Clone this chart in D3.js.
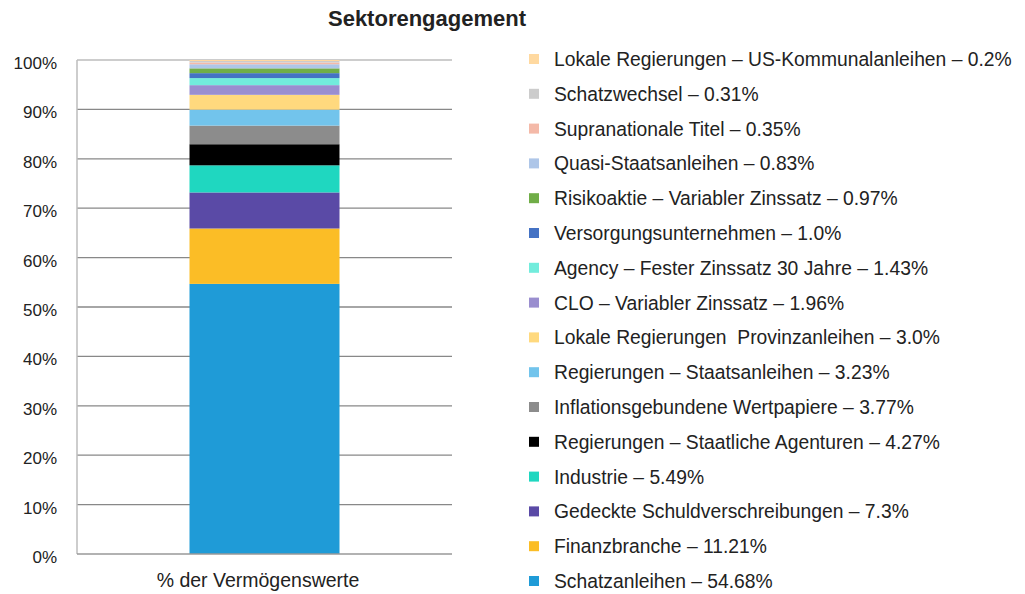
<!DOCTYPE html>
<html>
<head>
<meta charset="utf-8">
<script src="https://cdn.jsdelivr.net/npm/d3@7"></script>
<style>
  body { margin: 0; background: #fff; }
  text { font-family: "Liberation Sans", Arial, sans-serif; fill: #222; }
</style>
</head>
<body>
<div id="chart"></div>
<script>
// sectors from bottom of the stack to the top
var sectors = [
  'Schatzanleihen',
  'Finanzbranche',
  'Gedeckte Schuldverschreibungen',
  'Industrie',
  'Regierungen – Staatliche Agenturen',
  'Inflationsgebundene Wertpapiere',
  'Regierungen – Staatsanleihen',
  'Lokale Regierungen  Provinzanleihen',
  'CLO – Variabler Zinssatz',
  'Agency – Fester Zinssatz 30 Jahre',
  'Versorgungsunternehmen',
  'Risikoaktie – Variabler Zinssatz',
  'Quasi-Staatsanleihen',
  'Supranationale Titel',
  'Schatzwechsel',
  'Lokale Regierungen – US-Kommunalanleihen'
];
var shares = [54.68, 11.21, 7.3, 5.49, 4.27, 3.77, 3.23, 3.0, 1.96, 1.43, 1.0, 0.97, 0.83, 0.35, 0.31, 0.2];
var shareLabels = ['54.68', '11.21', '7.3', '5.49', '4.27', '3.77', '3.23', '3.0', '1.96', '1.43', '1.0', '0.97', '0.83', '0.35', '0.31', '0.2'];
var colors = ['#1f9bd7', '#fbbd26', '#5a4aa6', '#1fd7c0', '#000000', '#8c8c8c', '#72c4ec', '#ffd97e',
              '#9a8ecf', '#72ecdc', '#4472c4', '#70ad47', '#aec6e8', '#f4b9a8', '#cccccc', '#ffd9a0'];
var category = '% der Vermögenswerte';
var yTicks = [0, 10, 20, 30, 40, 50, 60, 70, 80, 90, 100];

var W = 1025, H = 594;
var m = { left: 77, right: 452, top: 60, bottom: 554 };

var svg = d3.select('#chart').append('svg').attr('width', W).attr('height', H);

svg.append('text')
  .attr('x', 427).attr('y', 26)
  .attr('text-anchor', 'middle')
  .attr('font-size', 22).attr('font-weight', 'bold')
  .text('Sektorengagement');

var x = d3.scaleBand().domain([category]).range([m.left, m.right]).paddingInner(0.6).paddingOuter(0.3);
var y = d3.scaleLinear().domain([0, 100]).range([m.bottom, m.top]);

// gridlines
svg.append('g').selectAll('line')
  .data(yTicks.filter(function (t) { return t > 0; }))
  .enter().append('line')
  .attr('x1', m.left).attr('x2', m.right)
  .attr('y1', function (d) { return y(d); })
  .attr('y2', function (d) { return y(d); })
  .style('stroke', function (d) { return d === 100 ? '#bdbdbd' : '#888'; })
  .style('stroke-width', '1.3px');

// stacked segments
var cum = 0;
var segs = shares.map(function (v, i) {
  var s = { y0: cum, y1: cum + v, clr: colors[i] };
  cum += v;
  return s;
});

svg.append('g').selectAll('rect')
  .data(segs)
  .enter().append('rect')
  .attr('x', x(category))
  .attr('width', x.bandwidth())
  .attr('y', function (d) { return y(d.y1); })
  .attr('height', function (d) { return y(d.y0) - y(d.y1); })
  .style('fill', function (d) { return d.clr; });

// left axis + baseline
svg.append('line')
  .attr('x1', m.left).attr('x2', m.left)
  .attr('y1', m.top).attr('y2', m.bottom)
  .style('stroke', '#bdbdbd').style('stroke-width', '1.5px');
svg.append('line')
  .attr('x1', m.left).attr('x2', m.right)
  .attr('y1', m.bottom).attr('y2', m.bottom)
  .style('stroke', '#999').style('stroke-width', '1.5px');

// tick labels
svg.append('g').selectAll('text')
  .data(yTicks)
  .enter().append('text')
  .attr('x', 57)
  .attr('y', function (d) { return y(d) + 9; })
  .attr('text-anchor', 'end')
  .attr('font-size', 17)
  .text(function (d) { return d + '%'; });

svg.append('text')
  .attr('x', 258).attr('y', 587)
  .attr('text-anchor', 'middle')
  .attr('font-size', 19.5)
  .text(category);

// legend, top item is last sector
var legendY = d3.scalePoint().domain(d3.range(sectors.length)).range([59, 581]);
var order = d3.range(sectors.length).reverse();

var leg = svg.append('g').selectAll('g')
  .data(order)
  .enter().append('g')
  .attr('transform', function (i, k) { return 'translate(529,' + legendY(k) + ')'; });

leg.append('rect')
  .attr('x', 0).attr('y', -5)
  .attr('width', 10).attr('height', 10)
  .style('fill', function (i) { return colors[i]; });

leg.append('text')
  .attr('x', 25).attr('y', 7)
  .attr('font-size', 19.3)
  .style('white-space', 'pre')
  .text(function (i) { return sectors[i] + ' – ' + shareLabels[i] + '%'; });
</script>
</body>
</html>
